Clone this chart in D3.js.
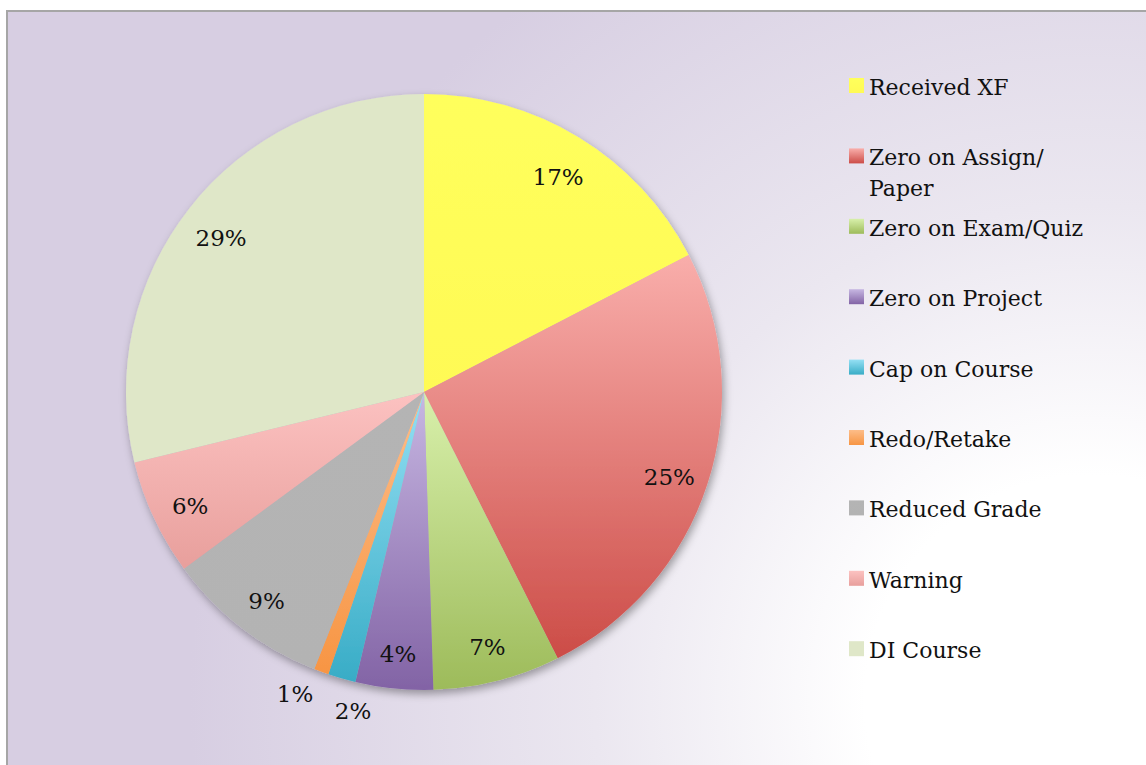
<!DOCTYPE html>
<html>
<head>
<meta charset="utf-8">
<script src="https://cdn.jsdelivr.net/npm/d3@7/dist/d3.min.js"></script>
<style>
  html, body { margin: 0; padding: 0; background: #ffffff; }
  svg { display: block; }
  text { font-family: "DejaVu Serif", "Liberation Serif", serif; fill: #111; }
</style>
</head>
<body>
<svg id="chart" width="1146" height="765"></svg>
<script>
// ---- data ----
const categories = ["Received XF", "Zero on Assign/ Paper", "Zero on Exam/Quiz", "Zero on Project",
                    "Cap on Course", "Redo/Retake", "Reduced Grade", "Warning", "DI Course"];
const legendLines = [["Received XF"], ["Zero on Assign/", "Paper"], ["Zero on Exam/Quiz"], ["Zero on Project"],
                     ["Cap on Course"], ["Redo/Retake"], ["Reduced Grade"], ["Warning"], ["DI Course"]];
const values = [17.4, 25.2, 6.9, 4.2, 1.5, 0.8, 8.9, 6.3, 28.8];
const colorTop    = ["#ffff5c", "#f9aeab", "#d8f0ab", "#c7b7e2", "#95e0f4", "#fdbd89", "#b4b4b4", "#fcc2c1", "#dfe7c8"];
const colorBottom = ["#fffa55", "#cc4c47", "#9dbb5a", "#8263a5", "#38acc6", "#f79543", "#b3b3b3", "#e89f9c", "#dfe7c8"];

const W = 1146, H = 765;
const svg = d3.select("#chart");
const defs = svg.append("defs");

// background gradient
const bg = defs.append("radialGradient").attr("id", "bg")
  .attr("gradientUnits", "userSpaceOnUse")
  .attr("cx", 1090).attr("cy", 700).attr("r", 900);
bg.append("stop").attr("offset", "0").attr("stop-color", "#ffffff");
bg.append("stop").attr("offset", "0.25").attr("stop-color", "#ffffff");
bg.append("stop").attr("offset", "0.55").attr("stop-color", "#ebe7f0");
bg.append("stop").attr("offset", "1").attr("stop-color", "#d7cee2");

categories.forEach((c, i) => {
  const g = defs.append("linearGradient").attr("id", "g" + i)
    .attr("x1", 0).attr("y1", 0).attr("x2", 0).attr("y2", 1);
  g.append("stop").attr("offset", "0").attr("stop-color", colorTop[i]);
  g.append("stop").attr("offset", "1").attr("stop-color", colorBottom[i]);
});

const f = defs.append("filter").attr("id", "shadow")
  .attr("x", "-10%").attr("y", "-10%").attr("width", "125%").attr("height", "125%");
f.append("feDropShadow").attr("dx", 2).attr("dy", 4).attr("stdDeviation", 4)
  .attr("flood-color", "#000").attr("flood-opacity", 0.35);

// frame
svg.append("rect").attr("x", 7).attr("y", 11).attr("width", W + 20).attr("height", H + 20)
  .attr("fill", "url(#bg)").attr("stroke", "#a6a6a6").attr("stroke-width", 2);

// pie
const cx = 424, cy = 392, R = 298;
const pie = d3.pie().sort(null).value(d => d)(values);
const arc = d3.arc().innerRadius(0).outerRadius(R);
const gPie = svg.append("g").attr("transform", `translate(${cx},${cy})`);
const slices = gPie.append("g").attr("filter", "url(#shadow)");
slices.selectAll("path").data(pie).join("path")
  .attr("d", arc)
  .attr("fill", (d, i) => `url(#g${i})`);

// labels
const inArc = d3.arc().innerRadius(258).outerRadius(258);
const outArc = d3.arc().innerRadius(322).outerRadius(322);
const labelData = pie.map((d, i) => {
  const small = d.value < 3;
  const p = (small ? outArc : inArc).centroid(d);
  return { d, i, small, x: p[0], y: small ? p[1] : p[1] + 5, text: Math.round(d.value) + "%" };
});
// spread small outside labels so they don't collide
const smalls = labelData.filter(l => l.small).sort((a, b) => a.x - b.x);
for (let k = 1; k < smalls.length; k++) {
  const a = smalls[k - 1], b = smalls[k];
  const minGap = 58;
  if (b.x - a.x < minGap) {
    const push = (minGap - (b.x - a.x)) / 2;
    a.x -= push; b.x += push; b.y += 10;
  }
}
gPie.selectAll("text.lbl").data(labelData).join("text")
  .attr("class", "lbl")
  .attr("x", l => l.x).attr("y", l => l.y)
  .attr("text-anchor", "middle").attr("dominant-baseline", "central")
  .attr("font-size", 23)
  .text(l => l.text);

// legend
const lg = svg.append("g");
const rowY = d3.scaleLinear().domain([0, 1]).range([87, 157.4]);
legendLines.forEach((lines, i) => {
  const y = rowY(i);
  lg.append("rect").attr("x", 849).attr("y", y - 9).attr("width", 15).attr("height", 15)
    .attr("fill", `url(#g${i})`);
  const t = lg.append("text").attr("x", 869).attr("y", y).attr("dominant-baseline", "central")
    .attr("font-size", 22);
  lines.forEach((ln, j) => {
    t.append("tspan").attr("x", 869).attr("dy", j === 0 ? 0 : 31).text(ln);
  });
});
</script>
</body>
</html>
